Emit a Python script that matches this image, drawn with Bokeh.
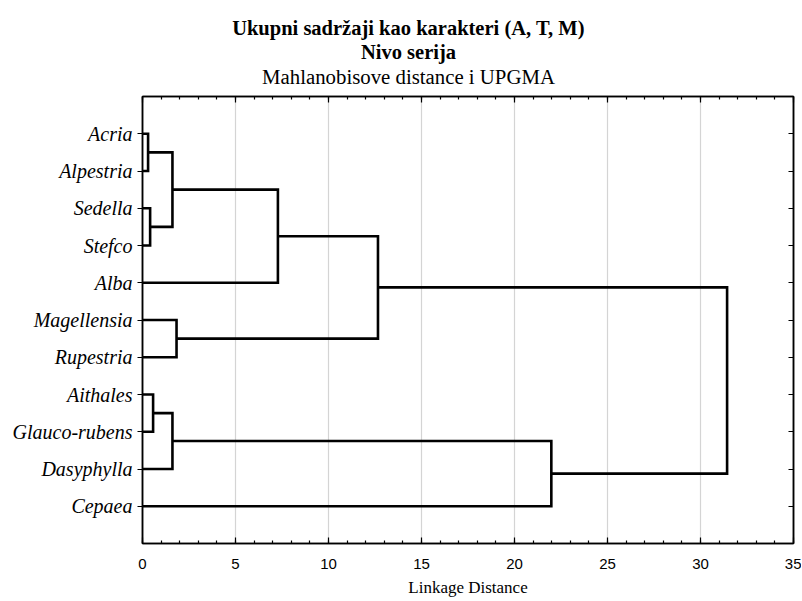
from bokeh.plotting import figure
from bokeh.models import Range1d, LinearAxis, FixedTicker
from bokeh.layouts import column
from bokeh.core.properties import value
from bokeh.embed import file_html
from bokeh.resources import INLINE

# ---- data ----
leaves = ["Acria", "Alpestria", "Sedella", "Stefco", "Alba", "Magellensia",
          "Rupestria", "Aithales", "Glauco-rubens", "Dasyphylla", "Cepaea"]
# clusters: 0..10 leaves, 11.. merged clusters in order
merge_left = [0, 2, 11, 13, 5, 14, 7, 17, 18, 16]
merge_right = [1, 3, 12, 4, 6, 15, 8, 9, 10, 19]
merge_height = [0.30, 0.41, 1.61, 7.28, 1.83, 12.66, 0.57, 1.61, 21.98, 31.43]
x_ticks = [0, 5, 10, 15, 20, 25, 30, 35]
x_minor = list(range(0, 36))
title_lines = ["Ukupni sadržaji kao karakteri (A, T, M)", "Nivo serija",
               "Mahlanobisove distance i UPGMA"]
x_label = "Linkage Distance"

# ---- build dendrogram paths ----
node_x = [0.0] * len(leaves)
node_y = [i + 1 for i in range(len(leaves))]
xs, ys = [], []
for l, r, h in zip(merge_left, merge_right, merge_height):
    xs.append([node_x[l], h, h, node_x[r]])
    ys.append([node_y[l], node_y[l], node_y[r], node_y[r]])
    node_x.append(h)
    node_y.append((node_y[l] + node_y[r]) / 2)

SERIF = "Liberation Serif"
SANS = "Liberation Sans"
LEFT, FW, RIGHT = 142, 651, 8
HEAD_H = 90

# ---- title strip: frame aligned with the main frame, coords = page pixels ----
head = figure(frame_width=FW, frame_height=HEAD_H,
              x_range=Range1d(LEFT, LEFT + FW), y_range=Range1d(HEAD_H, 0),
              output_backend="svg", toolbar_location=None, title=None,
              min_border_left=LEFT, min_border_right=RIGHT, min_border_top=0,
              min_border_bottom=0, x_axis_location=None, y_axis_location=None,
              background_fill_color="white", border_fill_color="white")
head.outline_line_color = None
head.xgrid.visible = False
head.ygrid.visible = False
for txt, style, size, base_y in [(title_lines[0], "bold", "20.5px", 27),
                                 (title_lines[1], "bold", "20.5px", 51),
                                 (title_lines[2], "normal", "20.8px", 76)]:
    head.text(x=[408], y=[base_y], text=[txt], text_align="center",
              text_baseline="alphabetic", text_font=value(SERIF),
              text_font_size=size, text_font_style=style, text_color="black")

# ---- dendrogram ----
p = figure(frame_width=FW, frame_height=447,
           x_range=Range1d(0, 35), y_range=Range1d(len(leaves) + 1, 0),
           output_backend="svg", toolbar_location=None, title=None,
           min_border_left=LEFT, min_border_right=RIGHT, min_border_top=6,
           min_border_bottom=0, x_axis_location=None, y_axis_location=None,
           background_fill_color="white", border_fill_color="white")
p.outline_line_color = "black"
p.outline_line_width = 1.5

xt = FixedTicker(ticks=x_ticks, minor_ticks=x_minor)
yt = FixedTicker(ticks=node_y[:len(leaves)], minor_ticks=[])

# bottom axis
xb = LinearAxis(ticker=xt, axis_label=x_label)
xb.major_tick_in = 6
xb.major_tick_out = 0
xb.minor_tick_in = 3
xb.minor_tick_out = 0
xb.axis_line_width = 1.5
xb.major_tick_line_width = 1.2
xb.minor_tick_line_width = 1.2
xb.major_label_text_font = SANS
xb.major_label_text_font_size = "15px"
xb.major_label_text_color = "black"
xb.major_label_standoff = 15
xb.axis_label_text_font = SERIF
xb.axis_label_text_font_style = "normal"
xb.axis_label_text_font_size = "17px"
xb.axis_label_text_color = "black"
xb.axis_label_standoff = 6
p.add_layout(xb, "below")

# top axis (ticks only)
xtop = LinearAxis(ticker=xt)
xtop.major_tick_in = 6
xtop.major_tick_out = 0
xtop.minor_tick_in = 3
xtop.minor_tick_out = 0
xtop.axis_line_width = 1.5
xtop.major_tick_line_width = 1.2
xtop.minor_tick_line_width = 1.2
xtop.major_label_text_font_size = "0px"
xtop.major_label_standoff = 0
p.add_layout(xtop, "above")

# left axis with leaf names
yl = LinearAxis(ticker=yt)
yl.major_label_overrides = {y: n for y, n in zip(node_y[:len(leaves)], leaves)}
yl.major_tick_in = 0
yl.major_tick_out = 5
yl.axis_line_width = 1.5
yl.major_tick_line_width = 1.2
yl.major_label_text_font = SERIF
yl.major_label_text_font_style = "italic"
yl.major_label_text_font_size = "20px"
yl.major_label_text_color = "black"
yl.major_label_standoff = 5
p.add_layout(yl, "left")

# right axis (ticks only)
yr = LinearAxis(ticker=yt)
yr.major_tick_in = 5
yr.major_tick_out = 0
yr.axis_line_width = 1.5
yr.major_tick_line_width = 1.2
yr.major_label_text_font_size = "0px"
yr.major_label_standoff = 0
p.add_layout(yr, "right")

# grid: vertical lines only
p.xgrid.ticker = xt
p.xgrid.grid_line_color = "#d4d4d4"
p.xgrid.grid_line_width = 1.2
p.ygrid.grid_line_color = None

p.multi_line(xs, ys, line_color="black", line_width=2.6, line_join="miter")

layout = column(head, p, spacing=0)
open("out.html", "w").write(file_html(layout, INLINE))
